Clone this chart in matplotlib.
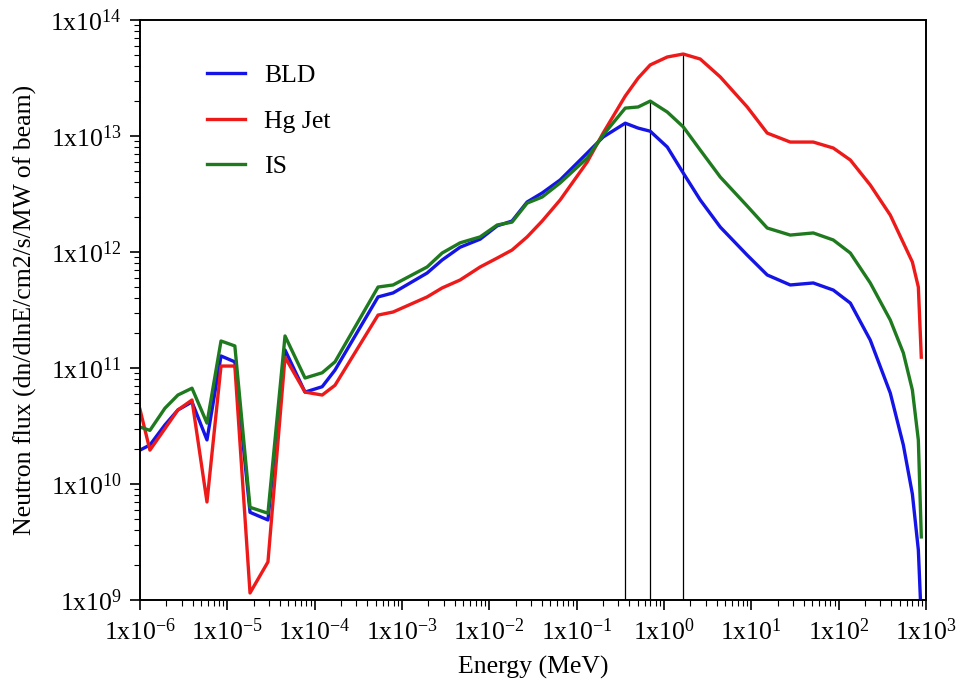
import numpy as np
import matplotlib
matplotlib.use("Agg")
import matplotlib.pyplot as plt
from matplotlib.ticker import LogLocator, FuncFormatter, NullFormatter

# energy grid (MeV), shared by the three spectra
energy = [1.0e-6, 1.30e-6, 1.93e-6, 2.72e-6, 3.94e-6, 5.85e-6, 8.47e-6, 1.22e-5,
          1.82e-5, 2.92e-5, 4.58e-5, 7.76e-5, 1.22e-4, 1.71e-4, 5.32e-4, 7.91e-4,
          1.94e-3, 2.88e-3, 4.63e-3, 7.85e-3, 1.23e-2, 1.82e-2, 2.71e-2, 4.03e-2,
          6.47e-2, 0.132, 0.201, 0.360, 0.506, 0.695, 1.09, 1.66, 2.60, 4.41,
          8.97, 15.2, 27.9, 51.2, 86.7, 136, 230, 390, 550, 698, 817, 883]

bld = [1.96e10, 2.17e10, 3.23e10, 4.35e10, 5.1e10, 2.4e10, 1.27e11, 1.13e11,
       5.7e9, 4.9e9, 1.43e11, 6.2e10, 6.9e10, 9.6e10, 4.10e11, 4.44e11,
       6.59e11, 8.53e11, 1.10e12, 1.29e12, 1.68e12, 1.85e12, 2.70e12, 3.23e12,
       4.18e12, 7.13e12, 9.8e12, 1.29e13, 1.17e13, 1.10e13, 8.04e12, 4.80e12,
       2.81e12, 1.64e12, 9.4e11, 6.34e11, 5.20e11, 5.41e11, 4.70e11, 3.63e11,
       1.74e11, 6.08e10, 2.17e10, 8.2e9, 2.70e9, 6.7e8]

hg_jet = [4.4e10, 1.96e10, 3.0e10, 4.35e10, 5.3e10, 7.0e9, 1.04e11, 1.04e11,
          1.15e9, 2.13e9, 1.24e11, 6.2e10, 5.85e10, 7.1e10, 2.86e11, 3.04e11,
          4.10e11, 4.90e11, 5.74e11, 7.43e11, 8.87e11, 1.04e12, 1.35e12, 1.85e12,
          2.81e12, 5.97e12, 1.06e13, 2.21e13, 3.16e13, 4.10e13, 4.80e13, 5.09e13,
          4.61e13, 3.23e13, 1.78e13, 1.06e13, 8.87e12, 8.87e12, 7.88e12, 6.21e12,
          3.78e12, 2.08e12, 1.20e12, 8.20e11, 4.99e11, 1.24e11]

is_flux = [3.1e10, 2.9e10, 4.5e10, 5.85e10, 6.7e10, 3.35e10, 1.71e11, 1.55e11,
           6.3e9, 5.6e9, 1.89e11, 8.2e10, 9.1e10, 1.13e11, 4.99e11, 5.20e11,
           7.43e11, 9.8e11, 1.20e12, 1.35e12, 1.71e12, 1.81e12, 2.64e12, 2.98e12,
           3.94e12, 6.46e12, 1.02e13, 1.74e13, 1.78e13, 2.00e13, 1.61e13, 1.20e13,
           7.57e12, 4.43e12, 2.49e12, 1.61e12, 1.40e12, 1.46e12, 1.27e12, 9.8e11,
           5.41e11, 2.59e11, 1.35e11, 6.46e10, 2.39e10, 3.5e9]

labels = ["BLD", "Hg Jet", "IS"]
colors = ["#1414e6", "#ee1a1a", "#1f7a1f"]

plt.rcParams['font.family'] = ['Liberation Serif', 'DejaVu Serif']
plt.rcParams['mathtext.fontset'] = 'custom'
plt.rcParams['mathtext.rm'] = 'Liberation Serif'
plt.rcParams['mathtext.it'] = 'Liberation Serif:italic'
plt.rcParams['font.size'] = 18.5

fig = plt.figure(figsize=(9.6, 6.9), dpi=100)
ax = fig.add_axes([0.1458, 0.1304, 0.8188, 0.8406])

ymin, ymax = 1e9, 1e14
for flux, lab, col in zip([bld, hg_jet, is_flux], labels, colors):
    ax.plot(energy, flux, color=col, lw=2.4, label=lab)

# peak markers
for flux in [bld, is_flux, hg_jet]:
    i = int(np.argmax(flux))
    ax.vlines(energy[i], ymin, flux[i], color='black', lw=0.9, zorder=1)

ax.set_xscale('log')
ax.set_yscale('log')
ax.set_xlim(1e-6, 1e3)
ax.set_ylim(ymin, ymax)

fmt = FuncFormatter(lambda v, p: r'$\mathregular{1x10^{%d}}$' % round(np.log10(v)))
ax.xaxis.set_major_locator(LogLocator(base=10, numticks=20))
ax.yaxis.set_major_locator(LogLocator(base=10, numticks=20))
ax.xaxis.set_minor_locator(LogLocator(base=10, subs=np.arange(2, 10), numticks=20))
ax.yaxis.set_minor_locator(LogLocator(base=10, subs=np.arange(2, 10), numticks=20))
ax.xaxis.set_major_formatter(fmt)
ax.yaxis.set_major_formatter(fmt)
ax.xaxis.set_minor_formatter(NullFormatter())
ax.yaxis.set_minor_formatter(NullFormatter())
ax.tick_params(which='major', direction='out', length=7, width=1.2, pad=6)
ax.tick_params(which='minor', direction='out', length=4, width=0.8)
for s in ax.spines.values():
    s.set_linewidth(1.4)

ax.set_xlabel('Energy (MeV)', labelpad=8)
ax.set_ylabel('Neutron flux (dn/dlnE/cm2/s/MW of beam)', labelpad=10)

ax.legend(loc='upper left', bbox_to_anchor=(0.0685, 0.946), frameon=False,
          borderpad=0, handlelength=1.5, handletextpad=0.75, labelspacing=0.87)

fig.savefig('out.png', dpi=100)
